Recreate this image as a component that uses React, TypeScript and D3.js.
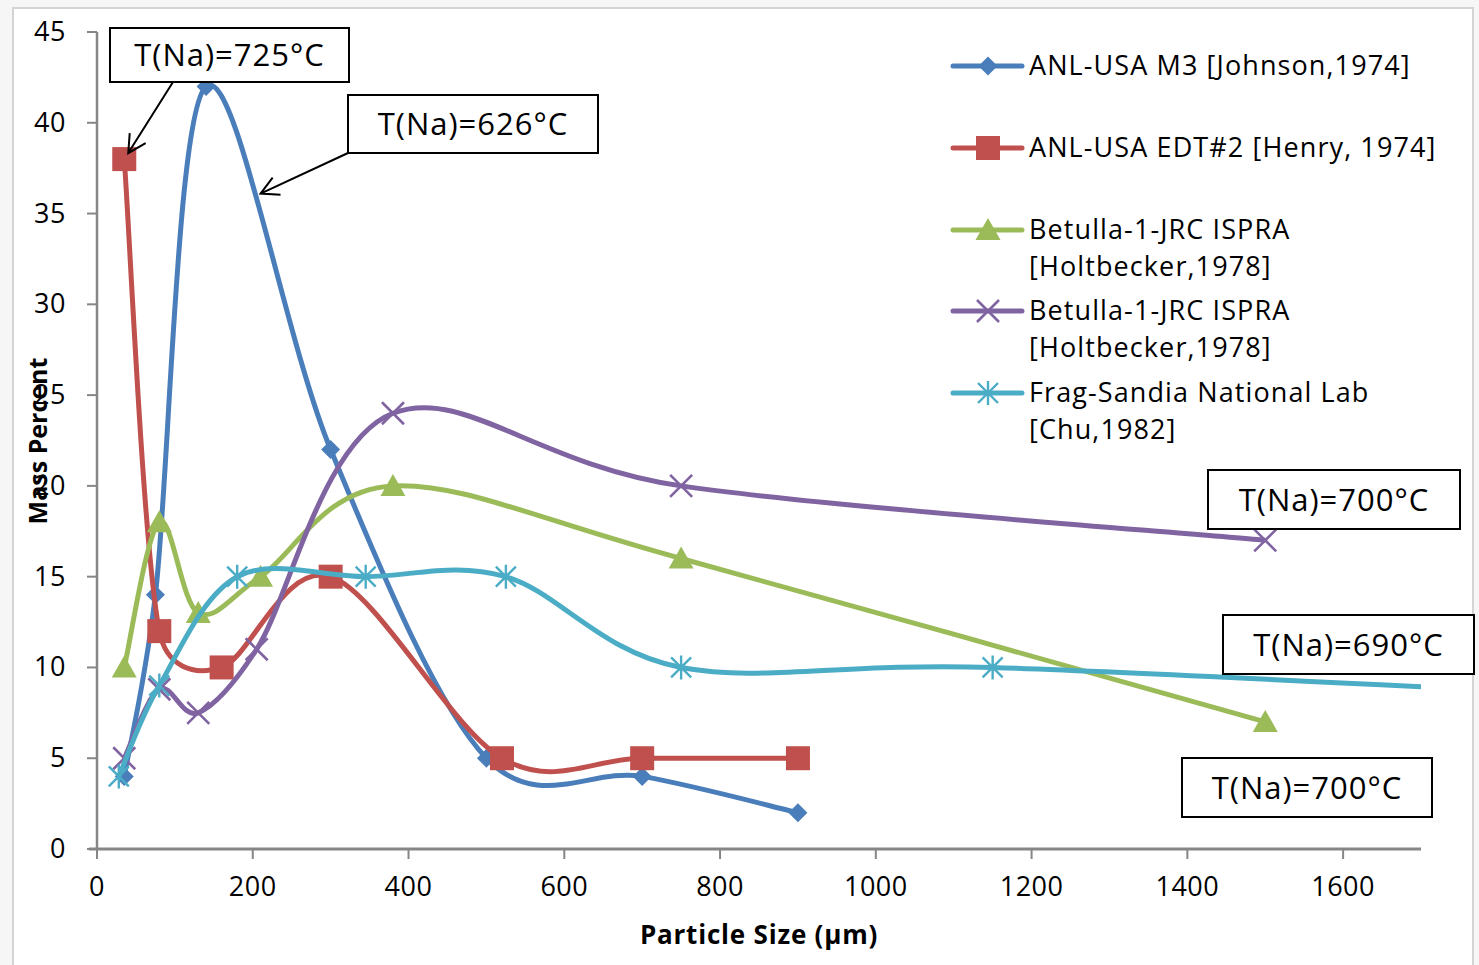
import React from "react";
import * as d3 from "d3";

// ---- Data ----
const xTicks = [0, 200, 400, 600, 800, 1000, 1200, 1400, 1600];
const yTicks = [0, 5, 10, 15, 20, 25, 30, 35, 40, 45];

const anlM3X = [35, 75, 140, 300, 500, 700, 900];
const anlM3Y = [4, 14, 42, 22, 5, 4, 2];

const anlEdtX = [35, 80, 160, 300, 520, 700, 900];
const anlEdtY = [38, 12, 10, 15, 5, 5, 5];

const betullaTriX = [35, 80, 130, 210, 380, 750, 1500];
const betullaTriY = [10, 18, 13, 15, 20, 16, 7];

const betullaCrossX = [35, 80, 130, 205, 380, 750, 1500];
const betullaCrossY = [5, 8.8, 7.5, 11, 24, 20, 17];

const fragX = [28, 80, 180, 345, 525, 750, 1150, 2000];
const fragY = [4, 9, 15, 15, 15, 10, 10, 8.3];

const seriesNames = [
  ["ANL-USA M3 [Johnson,1974]"],
  ["ANL-USA EDT#2 [Henry, 1974]"],
  ["Betulla-1-JRC ISPRA", "[Holtbecker,1978]"],
  ["Betulla-1-JRC ISPRA", "[Holtbecker,1978]"],
  ["Frag-Sandia National Lab", "[Chu,1982]"],
];
const seriesColors = ["#4A7EBB", "#C0504D", "#9BBB59", "#8064A2", "#4BACC6"];
const seriesMarkers = ["diamond", "square", "triangle", "x", "asterisk"];

const FONT = "'Open Sans', 'DejaVu Sans', sans-serif";

// Spreadsheet-style smoothed line: cubic Bezier with (P[i+1]-P[i-1])/6 arms,
// each arm capped at half the segment length.
function smoothPath(pts: [number, number][]): string {
  if (pts.length === 0) return "";
  const path = d3.path();
  path.moveTo(pts[0][0], pts[0][1]);
  for (let i = 0; i < pts.length - 1; i++) {
    const p0 = pts[Math.max(0, i - 1)];
    const p1 = pts[i];
    const p2 = pts[i + 1];
    const p3 = pts[Math.min(pts.length - 1, i + 2)];
    const d12 = Math.hypot(p2[0] - p1[0], p2[1] - p1[1]);
    let a1x = (p2[0] - p0[0]) / 6;
    let a1y = (p2[1] - p0[1]) / 6;
    let l1 = Math.hypot(a1x, a1y);
    if (l1 > d12 / 2 && l1 > 0) {
      a1x *= d12 / 2 / l1;
      a1y *= d12 / 2 / l1;
    }
    let a2x = (p3[0] - p1[0]) / 6;
    let a2y = (p3[1] - p1[1]) / 6;
    let l2 = Math.hypot(a2x, a2y);
    if (l2 > d12 / 2 && l2 > 0) {
      a2x *= d12 / 2 / l2;
      a2y *= d12 / 2 / l2;
    }
    path.bezierCurveTo(p1[0] + a1x, p1[1] + a1y, p2[0] - a2x, p2[1] - a2y, p2[0], p2[1]);
  }
  return path.toString();
}

function Marker({ type, cx, cy, color }: { type: string; cx: number; cy: number; color: string }) {
  if (type === "diamond") {
    const h = 9.5;
    return <path d={`M${cx},${cy - h}L${cx + h},${cy}L${cx},${cy + h}L${cx - h},${cy}Z`} fill={color} />;
  }
  if (type === "square") {
    const h = 12;
    return <rect x={cx - h} y={cy - h} width={2 * h} height={2 * h} fill={color} />;
  }
  if (type === "triangle") {
    return <path d={`M${cx},${cy - 12}L${cx + 12.5},${cy + 10}L${cx - 12.5},${cy + 10}Z`} fill={color} />;
  }
  if (type === "x") {
    const h = 11;
    return (
      <path
        d={`M${cx - h},${cy - h}L${cx + h},${cy + h}M${cx - h},${cy + h}L${cx + h},${cy - h}`}
        stroke={color}
        strokeWidth={2.6}
        fill="none"
      />
    );
  }
  const h = 10;
  return (
    <path
      d={`M${cx - h},${cy - h}L${cx + h},${cy + h}M${cx - h},${cy + h}L${cx + h},${cy - h}M${cx},${cy - 12}L${cx},${cy + 12}`}
      stroke={color}
      strokeWidth={2.4}
      fill="none"
    />
  );
}

function Arrow({ x1, y1, x2, y2 }: { x1: number; y1: number; x2: number; y2: number }) {
  const ang = Math.atan2(y2 - y1, x2 - x1);
  const len = 20;
  const spread = (28 * Math.PI) / 180;
  const a1x = x2 - len * Math.cos(ang - spread);
  const a1y = y2 - len * Math.sin(ang - spread);
  const a2x = x2 - len * Math.cos(ang + spread);
  const a2y = y2 - len * Math.sin(ang + spread);
  return (
    <path
      d={`M${x1},${y1}L${x2},${y2}M${a1x},${a1y}L${x2},${y2}L${a2x},${a2y}`}
      stroke="#000"
      strokeWidth={2}
      fill="none"
    />
  );
}

function Label({ x, y, w, h, text }: { x: number; y: number; w: number; h: number; text: string }) {
  return (
    <g>
      <rect x={x} y={y} width={w} height={h} fill="#fff" stroke="#000" strokeWidth={2} />
      <text
        x={x + w / 2}
        y={y + h / 2 + 11}
        textAnchor="middle"
        fontFamily={FONT}
        fontSize={31}
        letterSpacing={1}
        fill="#000"
      >
        {text}
      </text>
    </g>
  );
}

export default function App() {
  const W = 1479;
  const H = 965;
  const x = d3.scaleLinear().domain([0, 1700]).range([97, 1421]);
  const y = d3.scaleLinear().domain([0, 45]).range([849, 32]);

  const series = [
    { xs: anlM3X, ys: anlM3Y },
    { xs: anlEdtX, ys: anlEdtY },
    { xs: betullaTriX, ys: betullaTriY },
    { xs: betullaCrossX, ys: betullaCrossY },
    { xs: fragX, ys: fragY },
  ];

  const legendY = [66, 148, 230, 311, 393];

  return (
    <svg width={W} height={H} style={{ position: "absolute", left: 0, top: 0, background: "#f6f6f6" }}>
      <rect x={13} y={8} width={1460} height={H} fill="#fff" stroke="#d4d4d4" strokeWidth={2} />
      <defs>
        <clipPath id="plotclip">
          <rect x={x(0)} y={0} width={x(1700) - x(0)} height={y(0) + 20} />
        </clipPath>
      </defs>

      {/* Y axis */}
      <line x1={x(0)} y1={y(45)} x2={x(0)} y2={y(0)} stroke="#868686" strokeWidth={2.5} />
      {yTicks.map((t) => (
        <g key={"y" + t}>
          <line x1={x(0) - 10} x2={x(0)} y1={y(t)} y2={y(t)} stroke="#868686" strokeWidth={2} />
          <text x={66} y={y(t) + 9} textAnchor="end" fontFamily={FONT} fontSize={27} letterSpacing={0.5} fill="#000">
            {t}
          </text>
        </g>
      ))}

      {/* X axis */}
      <line x1={x(0) - 8} y1={y(0)} x2={x(1700)} y2={y(0)} stroke="#868686" strokeWidth={3} />
      {xTicks.map((t) => (
        <g key={"x" + t}>
          <line x1={x(t)} x2={x(t)} y1={y(0)} y2={y(0) + 10} stroke="#868686" strokeWidth={2} />
          <text x={x(t)} y={896} textAnchor="middle" fontFamily={FONT} fontSize={27} letterSpacing={0.5} fill="#000">
            {t}
          </text>
        </g>
      ))}

      {/* Axis titles */}
      <text
        x={759}
        y={944}
        textAnchor="middle"
        fontFamily={FONT}
        fontWeight="bold"
        fontSize={26}
        letterSpacing={0.8}
        fill="#000"
      >
        Particle Size (µm)
      </text>
      <text
        transform={`translate(47,441) rotate(-90)`}
        textAnchor="middle"
        fontFamily={FONT}
        fontWeight="bold"
        fontSize={25}
        fill="#000"
      >
        Mass Percent
      </text>

      {/* Series */}
      <g clipPath="url(#plotclip)">
        {series.map((s, i) => {
          const pts = s.xs.map((v, j) => [x(v), y(s.ys[j])] as [number, number]);
          return (
            <g key={"s" + i}>
              <path d={smoothPath(pts)} fill="none" stroke={seriesColors[i]} strokeWidth={5} strokeLinejoin="round" />
              {s.xs.map((v, j) =>
                v <= 1700 ? (
                  <Marker key={j} type={seriesMarkers[i]} cx={x(v)} cy={y(s.ys[j])} color={seriesColors[i]} />
                ) : null
              )}
            </g>
          );
        })}
      </g>

      {/* Legend */}
      {seriesNames.map((lines, i) => (
        <g key={"l" + i}>
          <line x1={953} x2={1022} y1={legendY[i]} y2={legendY[i]} stroke={seriesColors[i]} strokeWidth={5} strokeLinecap="round" />
          <Marker type={seriesMarkers[i]} cx={988} cy={legendY[i]} color={seriesColors[i]} />
          {lines.map((ln, k) => (
            <text
              key={k}
              x={1029}
              y={legendY[i] + 9 + k * 37}
              fontFamily={FONT}
              fontSize={27}
              letterSpacing={1.1}
              fill="#000"
            >
              {ln}
            </text>
          ))}
        </g>
      ))}

      {/* Annotations */}
      <Arrow x1={173} y1={82} x2={x(35) + 4} y2={y(38) - 6} />
      <Arrow x1={348} y1={153} x2={x(210)} y2={y(36.1)} />
      <Label x={110} y={28} w={239} h={54} text="T(Na)=725°C" />
      <Label x={348} y={95} w={250} h={58} text="T(Na)=626°C" />
      <Label x={1208} y={470} w={252} h={59} text="T(Na)=700°C" />
      <Label x={1223} y={615} w={251} h={59} text="T(Na)=690°C" />
      <Label x={1182} y={758} w={250} h={59} text="T(Na)=700°C" />
    </svg>
  );
}
